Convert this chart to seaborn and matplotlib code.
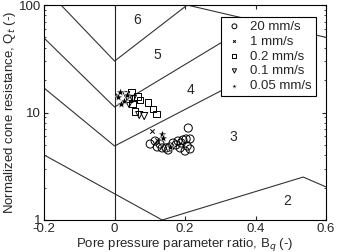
import numpy as np
import pandas as pd
import matplotlib
matplotlib.use('Agg')
import matplotlib.pyplot as plt
import seaborn as sns

# measured points (Bq, Qt) per penetration rate
c20_bq = [0.101, 0.115, 0.121, 0.135, 0.146, 0.157, 0.166, 0.174, 0.180, 0.189,
          0.194, 0.203, 0.214, 0.186, 0.200, 0.214, 0.206, 0.209, 0.129, 0.152]
c20_qt = [5.09, 5.43, 4.78, 4.68, 4.68, 4.78, 5.20, 4.99, 5.43, 5.20,
          5.55, 5.67, 5.67, 4.68, 4.38, 4.58, 4.88, 7.17, 5.09, 4.48]
c1_bq = [0.106, 0.121, 0.007]
c1_qt = [6.73, 5.55, 14.5]
c02_bq = [0.047, 0.064, 0.072, 0.050, 0.095, 0.109, 0.118, 0.058, 0.041]
c02_qt = [15.5, 14.2, 13.1, 12.0, 12.3, 10.8, 9.68, 10.3, 13.6]
c01_bq = [0.033, 0.052, 0.070, 0.084, 0.041]
c01_qt = [14.5, 13.4, 9.48, 9.27, 12.0]
c005_bq = [0.016, 0.010, 0.035, 0.027, 0.018, 0.135, 0.138, 0.158]
c005_qt = [15.5, 13.9, 14.5, 12.8, 12.0, 6.31, 5.79, 4.78]

# zone boundaries (Robertson Bq chart)
b1_x = [-0.152, 0.0, 0.206, 0.6]
b1_y = [100, 30.1, 100, 50]
b2_x = [-0.2, 0.0, 0.4]
b2_y = [49.3, 11.25, 69.7]
b3_x = [-0.2, 0.0, 0.4]
b3_y = [16.9, 4.88, 23.4]
b4_x = [-0.2, 0.135]
b4_y = [4.03, 1.0]
b5_x = [0.135, 0.535, 0.6]
b5_y = [1.0, 2.51, 2.03]

zone_labels = ['6', '5', '4', '3', '2']
zone_x = [0.064, 0.121, 0.214, 0.336, 0.489]
zone_y = [72.5, 34.3, 16.2, 5.92, 1.50]

sns.set_style('ticks')
plt.rcParams['font.family'] = ['Liberation Sans', 'DejaVu Sans']

fig = plt.figure(figsize=(3.39, 2.52), dpi=100)
ax = fig.add_axes([0.130, 0.127, 0.832, 0.853])

for bx, by in [(b1_x, b1_y), (b2_x, b2_y), (b3_x, b3_y), (b4_x, b4_y), (b5_x, b5_y)]:
    ax.plot(bx, by, color='#333333', lw=0.8, zorder=1)
ax.axvline(0, color='#222222', lw=0.8, zorder=1)

sns.scatterplot(x=c20_bq, y=c20_qt, marker='o', s=34, facecolor='none',
                edgecolor='k', linewidth=0.7, label='20 mm/s', ax=ax, zorder=3)
sns.scatterplot(x=c1_bq, y=c1_qt, marker='x', s=10, color='k',
                linewidth=0.7, label='1 mm/s', ax=ax, zorder=3)
sns.scatterplot(x=c02_bq, y=c02_qt, marker='s', s=24, facecolor='none',
                edgecolor='k', linewidth=0.7, label='0.2 mm/s', ax=ax, zorder=3)
sns.scatterplot(x=c01_bq, y=c01_qt, marker='v', s=26, facecolor='none',
                edgecolor='k', linewidth=0.7, label='0.1 mm/s', ax=ax, zorder=3)
sns.scatterplot(x=c005_bq, y=c005_qt, marker='*', s=40, color='k',
                linewidth=0.3, label='0.05 mm/s', ax=ax, zorder=3)

for t, zx, zy in zip(zone_labels, zone_x, zone_y):
    ax.text(zx, zy, t, ha='center', va='center', fontsize=10)

ax.set_yscale('log')
ax.set_xlim(-0.2, 0.6)
ax.set_ylim(1, 100)
ax.set_xticks([-0.2, 0, 0.2, 0.4, 0.6])
ax.set_xticklabels(['-0.2', '0', '0.2', '0.4', '0.6'])
ax.set_yticks([1, 10, 100])
ax.set_yticklabels(['1', '10', '100'])
ax.tick_params(which='both', direction='in', top=True, right=True,
               labelsize=9.5, pad=2)
ax.tick_params(which='major', length=3)
ax.tick_params(which='minor', length=1.5)
ax.set_xlabel('Pore pressure parameter ratio, B$_q$ (-)', fontsize=9.5, labelpad=1)
ax.set_ylabel('Normalized cone resistance, Q$_t$ (-)', fontsize=9.5, labelpad=1)
for sp in ax.spines.values():
    sp.set_linewidth(0.8)
    sp.set_color('k')

leg = ax.legend(loc='upper right', bbox_to_anchor=(0.987, 0.977), fontsize=9.5,
                frameon=True, fancybox=False, edgecolor='k', framealpha=1,
                handletextpad=0.5, borderpad=0.3, labelspacing=0.2,
                handlelength=1.4, markerscale=0.6)
leg.get_frame().set_linewidth(0.8)
leg.set_zorder(5)

fig.savefig('out.png', dpi=100)
